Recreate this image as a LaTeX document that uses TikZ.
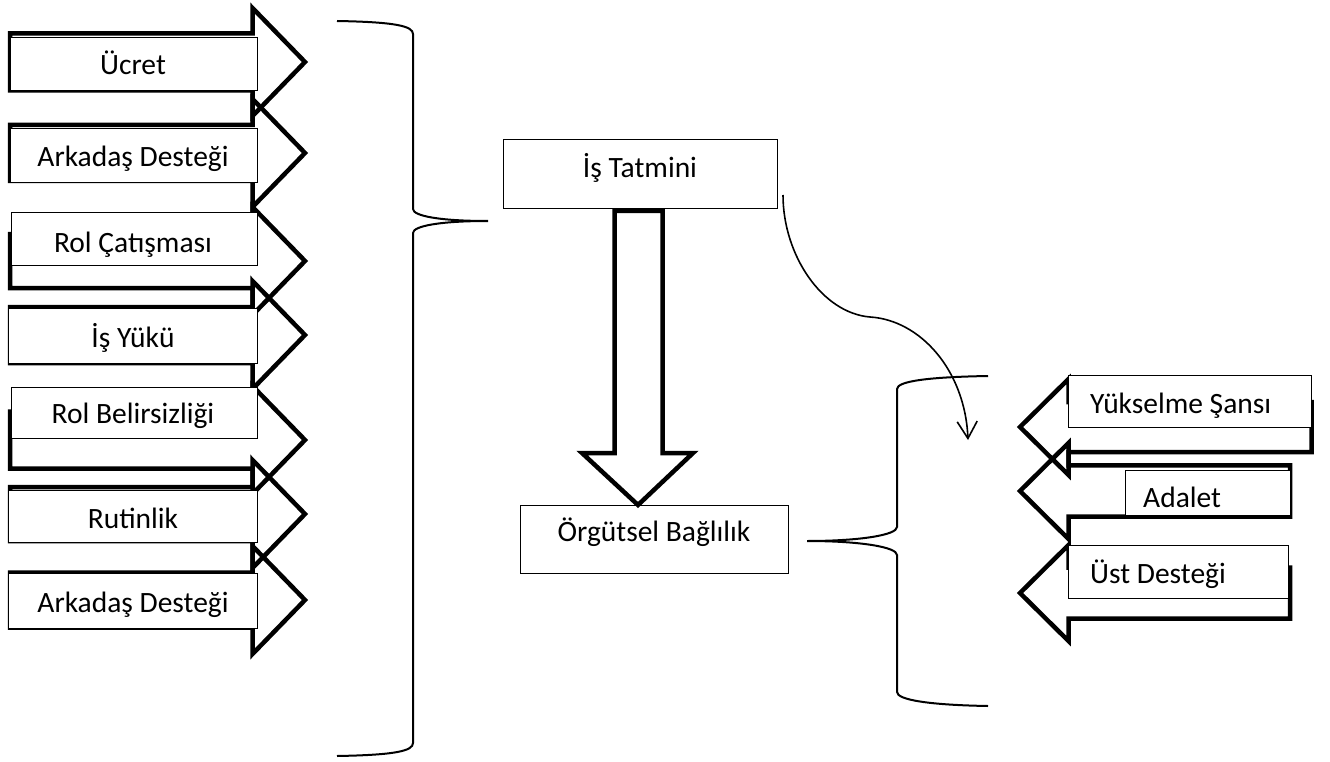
\documentclass[tikz,border=0pt]{standalone}
\usepackage{fontspec}
\setmainfont{Carlito}
\usetikzlibrary{arrows.meta}
\begin{document}
\begin{tikzpicture}[x=1pt,y=-1pt,
  blockarrow/.style={draw=black,line width=4.5pt,line join=miter,miter limit=10},
  box/.style={draw=black,fill=white,line width=1.4pt,inner sep=0pt,anchor=north west},
  lbl/.style={font=\fontsize{29.5}{34}\selectfont,inner sep=0pt},
  brace/.style={draw=black,line width=2pt},
  flow/.style={draw=black,line width=1.6pt,-{Straight Barb[length=17pt,width=20pt,line width=1.6pt]}}
]
\useasboundingbox (0,0) rectangle (1330,762);

% left-hand block arrows pointing right (tip y / body half-height)
\foreach \t/\b in {62/28.5, 153/28, 261/27, 335/28, 440/28.5, 514/27, 600/27.5}
  \draw[blockarrow] (10,\t-\b) -- (252.5,\t-\b) -- (252.5,\t-54) -- (305,\t)
        -- (252.5,\t+54) -- (252.5,\t+\b) -- (10,\t+\b) -- cycle;

% labels laid over the arrow bodies
\node[box,minimum width=247pt,minimum height=53pt] (b1) at (10,37) {};
\node[box,minimum width=247pt,minimum height=54pt] (b2) at (10,128) {};
\node[box,minimum width=246pt,minimum height=53pt] (b3) at (11,212) {};
\node[box,minimum width=249pt,minimum height=55pt] (b4) at (8,308) {};
\node[box,minimum width=246pt,minimum height=51pt] (b5) at (11,387) {};
\node[box,minimum width=249pt,minimum height=52pt] (b6) at (8,490) {};
\node[box,minimum width=249pt,minimum height=55pt] (b7) at (8,573) {};

\node[lbl,anchor=base] (t1) at (133,75) {Ücret};
\node[lbl,anchor=base] (t2) at (133,167) {Arkadaş Desteği};
\node[lbl,anchor=base] (t3) at (133,252) {Rol Çatışması};
\node[lbl,anchor=base] (t4) at (133,347) {İş Yükü};
\node[lbl,anchor=base] (t5) at (133,423) {Rol Belirsizliği};
\node[lbl,anchor=base] (t6) at (133,528) {Rutinlik};
\node[lbl,anchor=base] (t7) at (133,612) {Arkadaş Desteği};

% left brace gathering the factors
\coordinate (lbtop) at (337,21);
\coordinate (lbcusp) at (488,221);
\coordinate (lbbot) at (337,756);
\draw[brace] (lbtop) .. controls (395,22) and (413,26) .. (413,34)
  -- (413,209) .. controls (413,216) and (440,221) .. (lbcusp)
  .. controls (440,221) and (413,226) .. (413,233)
  -- (413,743) .. controls (413,751) and (395,755) .. (lbbot);

% centre: job satisfaction leads to organisational commitment
\node[box,minimum width=274pt,minimum height=69pt] (sat) at (503,139) {};
\node[lbl,anchor=base] (tsat) at (640,178) {İş Tatmini};
\node[box,minimum width=268pt,minimum height=68pt] (com) at (520,505) {};
\node[lbl,anchor=base] (tcom) at (654,541) {Örgütsel Bağlılık};
\draw[blockarrow] (614.5,211) -- (662.5,211) -- (662.5,453) -- (693,453)
  -- (638,505) -- (582,453) -- (614.5,453) -- cycle;

% curved connector from job satisfaction to the right-hand group
\coordinate (cstart) at (783,195);
\coordinate (cend) at (968,440);
\draw[flow] (cstart) .. controls (783,255) and (822,313) .. (870,317)
  .. controls (920,320) and (965,370) .. (cend);

% right brace
\coordinate (rbtop) at (988,376);
\coordinate (rbcusp) at (807,541);
\coordinate (rbbot) at (988,706);
\draw[brace] (rbtop) .. controls (930,377) and (897,381) .. (897,389)
  -- (897,527) .. controls (897,535) and (860,541) .. (rbcusp)
  .. controls (860,541) and (897,547) .. (897,555)
  -- (897,692) .. controls (897,700) and (930,705) .. (rbbot);

% right-hand block arrows pointing left (tip y / body half-height / right end)
\foreach \t/\b/\r in {427/25/1311.5, 491/25.7/1290, 593/25.5/1290}
  \draw[blockarrow] (\r,\t-\b) -- (1068.5,\t-\b) -- (1068.5,\t-48) -- (1020,\t)
        -- (1068.5,\t+48) -- (1068.5,\t+\b) -- (\r,\t+\b) -- cycle;

\node[box,minimum width=243pt,minimum height=52pt] (ba) at (1068,375) {};
\node[box,minimum width=165pt,minimum height=45pt] (bb) at (1125,470) {};
\node[box,minimum width=220pt,minimum height=53pt] (bc) at (1068,545) {};
\node[lbl,anchor=base west] (ta) at (1090,413) {Yükselme Şansı};
\node[lbl,anchor=base west] (tb) at (1143,507) {Adalet};
\node[lbl,anchor=base west] (tc) at (1090,583) {Üst Desteği};
\end{tikzpicture}
\end{document}
